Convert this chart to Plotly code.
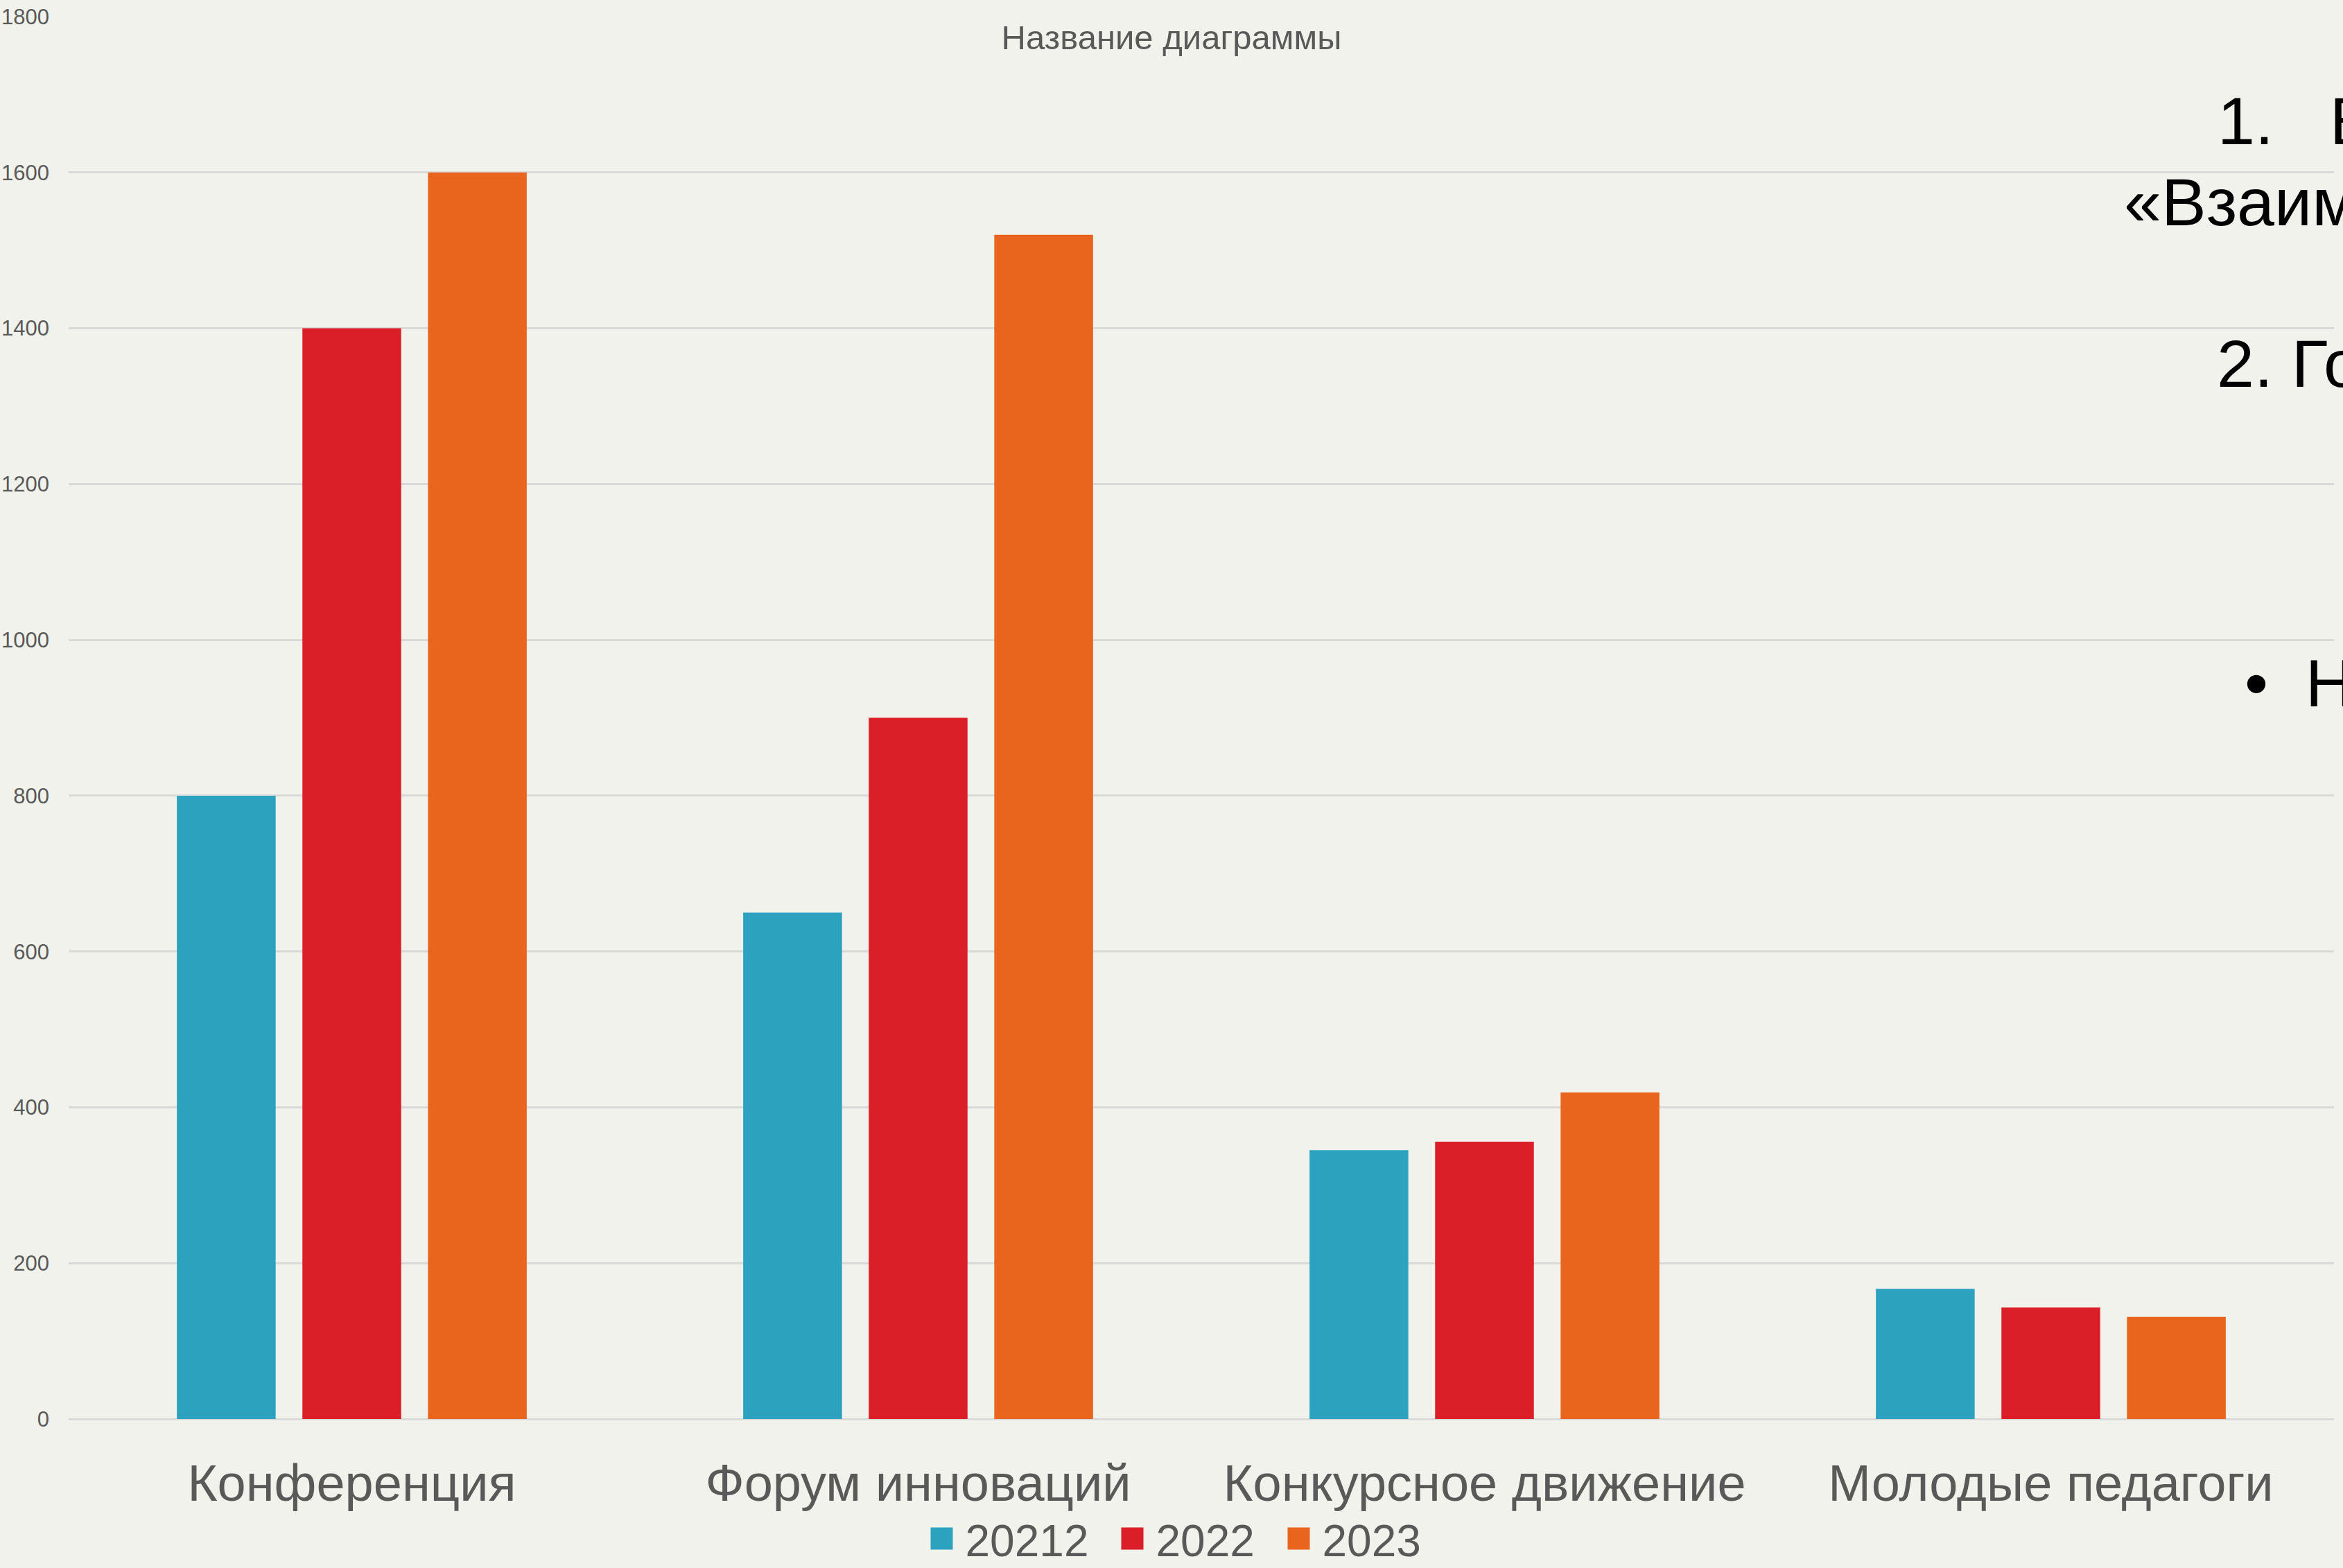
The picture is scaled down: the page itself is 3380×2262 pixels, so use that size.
import plotly.graph_objects as go

categories = ["Конференция", "Форум инноваций", "Конкурсное движение", "Молодые педагоги"]
series_names = ["20212", "2022", "2023"]
values_20212 = [800, 650, 345, 167]
values_2022 = [1400, 900, 356, 143]
values_2023 = [1600, 1520, 419, 131]
series_values = [values_20212, values_2022, values_2023]
y_ticks = [0, 200, 400, 600, 800, 1000, 1200, 1400, 1600, 1800]
chart_title = "Название диаграммы"
NB = "\u00a0"
side_texts = [("1." + NB * 3 + "В", 3197, 175), ("«Взаим", 3062, 291),
              ("2. Го", 3196, 525), ("•" + NB * 2 + "Н", 3236, 985)]

colors = ["#2CA2BF", "#DA1F29", "#E9641D"]
legend_widths = [200, 165, 165]
BG = "#F2F2EC"
TXT = "#595959"
FONT = "Liberation Sans, Arial, sans-serif"

W, H = 3380, 2262
L, R, T, B = 99, 13, 24, 215
PW, PH = W - L - R, H - T - B


def px_x(px):
    return (px - L) / PW


def px_y(py):
    return (H - B - py) / PH


fig = go.Figure()
for name, vals, col, lw in zip(series_names, series_values, colors, legend_widths):
    fig.add_trace(go.Bar(x=categories, y=vals, name=name, legendwidth=lw,
                         marker=dict(color=col, line=dict(width=0))))

for text, x, y in side_texts:
    fig.add_annotation(text=text, x=px_x(x), y=px_y(y), xref="paper", yref="paper",
                       xanchor="left", yanchor="middle", showarrow=False,
                       font=dict(family=FONT, size=97, color="#000000"))

fig.update_layout(
    width=W, height=H,
    margin=dict(l=L, r=R, t=T, b=B, pad=0, autoexpand=False),
    paper_bgcolor=BG, plot_bgcolor=BG,
    barmode="group", bargap=0.335, bargroupgap=0.213,
    font=dict(family=FONT, color=TXT),
    title=dict(text=chart_title, x=0.5, xref="container", xanchor="center",
               y=1 - 54 / H, yref="container", yanchor="middle",
               font=dict(family=FONT, size=49, color=TXT)),
    legend=dict(orientation="h", x=px_x(1700), xanchor="center",
                y=px_y(2220), yanchor="middle", itemwidth=60,
                font=dict(family=FONT, size=64, color=TXT),
                bgcolor="rgba(0,0,0,0)"),
    xaxis=dict(showgrid=False, showline=False, zeroline=False, ticks="",
               tickfont=dict(family=FONT, size=74, color=TXT),
               ticklabelstandoff=43),
    yaxis=dict(range=[0, 1800], tickvals=y_ticks, showgrid=True,
               gridcolor="#D9D9D9", gridwidth=2.5, zeroline=True,
               zerolinecolor="#D9D9D9", zerolinewidth=2.5, showline=False,
               ticks="", tickfont=dict(family=FONT, size=31, color=TXT),
               ticklabelstandoff=27),
)

post = """
document.body.style.margin = '0';
document.body.style.overflow = 'hidden';
var gd = document.getElementById('{plot_id}');
function fixLegend(){
  gd.querySelectorAll('.legendpoints path').forEach(function(p){
    p.setAttribute('transform','translate(36,0) scale(2.67)');
  });
}
fixLegend();
gd.on('plotly_afterplot', fixLegend);
"""

fig.write_html("out.html", post_script=post, config={"displayModeBar": False})
